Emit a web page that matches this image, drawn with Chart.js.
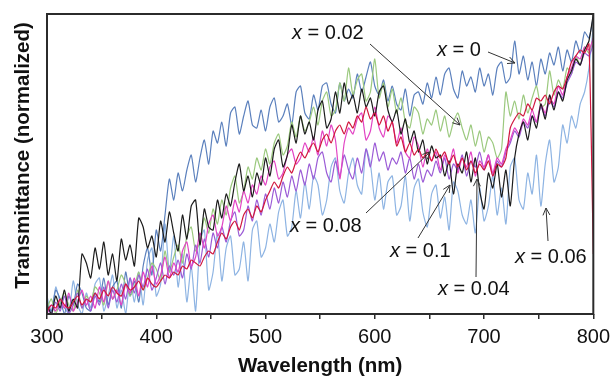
<!DOCTYPE html>
<html>
<head>
<meta charset="utf-8">
<script src="https://cdn.jsdelivr.net/npm/chart.js@4.4.1/dist/chart.umd.min.js"></script>
<style>
  html, body { margin: 0; padding: 0; background: #fff; }
  #wrap { width: 616px; height: 377px; position: relative; }
</style>
</head>
<body>
<div id="wrap"><canvas id="specChart"></canvas></div>
<script>
// wavelength grid (nm), 4 nm steps
const wavelengths = [
  300,304,308,312,316,320,324,328,332,336,340,344,348,352,356,360,364,368,372,376,
  380,384,388,392,396,400,404,408,412,416,420,424,428,432,436,440,444,448,452,456,
  460,464,468,472,476,480,484,488,492,496,500,504,508,512,516,520,524,528,532,536,
  540,544,548,552,556,560,564,568,572,576,580,584,588,592,596,600,604,608,612,616,
  620,624,628,632,636,640,644,648,652,656,660,664,668,672,676,680,684,688,692,696,
  700,704,708,712,716,720,724,728,732,736,740,744,748,752,756,760,764,768,772,776,
  780,784,788,792,796,800
];
const xTicks = [300, 400, 500, 600, 700, 800];

// normalized transmittance (0-100)
const x000 = [
  4,1,8,5,0,6,3,10,7,2, 1,7,4,12,3,9,11,2,14,6, 11,4,16,22,13,28,21,33,45,38,
  47,41,48,53,44,52,58,50,61,57, 64,56,67,69,60,66,71,63,62,68, 61,69,72,64,66,70,63,74,76,67,
  65,73,68,76,77,70,67,77,71,75, 72,80,74,79,84,76,73,78,71,76, 70,68,75,66,73,74,70,77,72,79,
  73,80,82,75,72,81,76,79,74,82, 76,80,73,82,84,77,79,91,80,86, 78,84,76,85,80,87,83,89,81,88,
  84,91,87,94,92,99
];
const x002 = [
  2,5,0,4,7,3,1,8,2,6, 4,9,7,3,11,5,8,13,10,6, 9,14,8,12,17,15,11,21,14,19,
  23,17,26,29,21,24,32,27,35,30, 38,33,42,46,37,41,49,45,52,48, 55,50,57,60,53,56,64,59,66,61,
  64,69,63,71,74,66,68,77,71,82, 73,78,80,71,74,85,72,77,69,75, 67,72,64,62,69,67,60,65,63,68,
  61,66,59,64,67,62,58,63,56,61, 54,59,57,52,55,74,66,71,65,73, 67,72,76,69,70,81,73,78,75,82,
  80,86,83,89,87,92
];
const x004 = [
  2,0,4,1,6,0,3,7,2,5, 1,6,3,9,2,8,4,10,5,12, 7,13,9,15,8,12,17,10,16,13,
  18,12,20,15,23,17,25,19,27,22, 29,24,31,34,26,28,36,31,38,33, 40,35,42,37,44,39,46,41,48,43,
  50,45,52,54,47,44,51,46,53,48, 45,52,47,55,49,57,51,54,48,52, 50,54,47,52,45,50,44,48,46,51,
  47,52,45,50,48,53,46,51,49,54, 48,53,46,51,49,54,57,61,59,64, 62,66,64,69,66,71,69,74,72,77,
  80,84,83,87,86,90
];
const x006 = [
  6,0,9,4,2,0,11,3,0,7, 2,10,12,1,6,13,2,8,0,12, 4,14,3,18,22,6,10,30,14,26,
  9,20,4,16,1,24,28,8,14,27, 11,22,26,13,15,24,11,28,31,19, 22,30,24,34,38,26,29,41,32,44,
  35,46,43,33,38,49,52,41,37,47, 52,43,40,55,50,38,47,35,44,46, 33,36,46,31,42,45,34,29,40,43,
  32,39,28,44,41,33,30,38,27,42, 31,36,46,33,42,30,49,52,38,35, 47,40,53,36,50,58,44,49,63,57,
  66,62,70,74,82,96
];
const x008 = [
  0,3,1,5,2,7,1,4,8,3, 6,2,9,4,11,5,8,3,10,7, 12,6,14,9,16,10,13,19,12,17,
  14,21,24,16,19,27,22,30,33,26, 29,36,31,38,34,41,37,43,40,46, 43,49,51,45,47,53,55,50,52,57,
  54,59,53,61,56,63,58,45,57,62, 60,65,67,58,61,69,62,59,66,64, 57,62,54,52,59,56,49,55,51,54,
  48,53,50,55,47,52,49,54,46,51, 49,53,47,52,50,55,58,62,60,65, 63,68,64,70,67,72,70,76,73,79,
  82,86,85,89,88,92
];
const x010 = [
  3,0,6,2,8,1,5,2,20,17, 12,22,15,24,13,20,11,25,18,23, 16,32,29,22,26,19,31,24,34,27,
  21,33,25,36,38,23,35,29,28,38, 32,40,36,44,50,41,46,39,47,43, 52,46,55,58,49,53,63,57,66,60,
  64,58,68,71,62,65,74,67,77,70, 73,67,75,69,72,66,74,76,68,64, 68,60,65,57,61,54,58,50,56,52,
  53,46,51,40,50,47,54,44,52,41, 35,47,42,50,39,48,36,52,60,64, 58,66,62,70,65,73,68,74,71,78,
  81,85,83,88,91,100
];
const redSeries = [
  1,3,2,5,3,2,4,6,3,5, 4,7,5,8,6,9,7,6,10,8, 9,11,8,12,10,9,11,13,12,14,
  13,16,15,18,17,16,19,21,20,24, 27,25,29,31,28,33,35,32,36,34, 38,41,44,42,46,49,47,51,54,52,
  55,57,54,58,60,57,61,63,60,64, 62,66,64,69,65,67,63,66,61,64, 56,59,54,57,53,55,52,54,51,55,
  52,54,50,53,49,52,48,51,47,50, 48,51,46,50,49,52,62,65,67,66, 70,68,72,71,73,70,74,76,75,79,
  84,86,88,87,90,20
];

function pts(vals) {
  return vals.map((v, i) => ({ x: wavelengths[i], y: v }));
}

// top-most first
const datasets = [
  { label: 'red', data: pts(redSeries), borderColor: '#d1173f' },
  { label: 'x = 0.1', data: pts(x010), borderColor: '#1c1c1c' },
  { label: 'x = 0.08', data: pts(x008), borderColor: '#e244c4' },
  { label: 'x = 0.04', data: pts(x004), borderColor: '#9b5bd6' },
  { label: 'x = 0.02', data: pts(x002), borderColor: '#9bc97e' },
  { label: 'x = 0', data: pts(x000), borderColor: '#5b80bd' },
  { label: 'x = 0.06', data: pts(x006), borderColor: '#8eb4e3' }
].map(d => Object.assign(d, { borderWidth: 1.2, pointRadius: 0, fill: false, tension: 0.2 }));

// labels with arrows (pixel layout)
const notes = [
  { text: '0.02', tx: 292, ty: 33, from: [370, 44], to: [460, 125] },
  { text: '0', tx: 437, ty: 50, from: [488, 52], to: [515, 63] },
  { text: '0.08', tx: 290, ty: 226, from: [366, 213], to: [430, 152] },
  { text: '0.1', tx: 390, ty: 251, from: [418, 238], to: [450, 185] },
  { text: '0.04', tx: 438, ty: 289, from: [476, 277], to: [477, 179] },
  { text: '0.06', tx: 515, ty: 257, from: [548, 241], to: [546, 208] }
];

const notesPlugin = {
  id: 'notes',
  afterDatasetsDraw(chart) {
    const ctx = chart.ctx;
    ctx.save();
    ctx.strokeStyle = '#333';
    ctx.lineWidth = 1;
    ctx.fillStyle = '#111';
    ctx.textBaseline = 'middle';
    notes.forEach(n => {
      ctx.beginPath();
      ctx.moveTo(n.from[0], n.from[1]);
      ctx.lineTo(n.to[0], n.to[1]);
      const ang = Math.atan2(n.to[1] - n.from[1], n.to[0] - n.from[0]);
      const L = 8, A = 0.45;
      ctx.moveTo(n.to[0] - L * Math.cos(ang - A), n.to[1] - L * Math.sin(ang - A));
      ctx.lineTo(n.to[0], n.to[1]);
      ctx.lineTo(n.to[0] - L * Math.cos(ang + A), n.to[1] - L * Math.sin(ang + A));
      ctx.stroke();
      ctx.font = 'italic 20px "Liberation Sans", Arial, sans-serif';
      ctx.fillText('x', n.tx, n.ty);
      const w = ctx.measureText('x').width;
      ctx.font = '20px "Liberation Sans", Arial, sans-serif';
      ctx.fillText(' = ' + n.text, n.tx + w, n.ty);
    });
    // plot frame
    const a = chart.chartArea;
    ctx.strokeStyle = '#2b2b2b';
    ctx.lineWidth = 2;
    ctx.strokeRect(a.left, a.top, a.right - a.left, a.bottom - a.top);
    ctx.restore();
  }
};

const ctx = document.getElementById('specChart').getContext('2d');
const specChart = new Chart(ctx, {
  type: 'line',
  data: { datasets: datasets },
  options: {
    responsive: true,
    maintainAspectRatio: false,
    animation: false,
    layout: { padding: { top: 14, right: 18, left: 0, bottom: 0 } },
    plugins: { legend: { display: false }, tooltip: { enabled: false } },
    scales: {
      x: {
        type: 'linear',
        min: 300,
        max: 800,
        afterFit: s => { s.height = 63; },
        border: { display: false },
        grid: { drawOnChartArea: false, drawTicks: true, tickLength: 5, color: '#2b2b2b', lineWidth: 1.5 },
        ticks: {
          stepSize: 50,
          padding: 6,
          color: '#111',
          font: { family: '"Liberation Sans", Arial, sans-serif', size: 20 },
          callback: v => xTicks.includes(v) ? String(v) : ''
        },
        title: {
          display: true,
          text: 'Wavelength (nm)',
          color: '#111',
          padding: 0,
          font: { family: '"Liberation Sans", Arial, sans-serif', size: 20.5, weight: 'bold', lineHeight: 1 }
        }
      },
      y: {
        min: 0,
        max: 100,
        afterFit: s => { s.width = 47; },
        border: { display: false },
        grid: { display: false },
        ticks: { display: false },
        title: {
          display: true,
          text: '   Transmittance (normalized)',
          color: '#111',
          padding: { top: 11, bottom: 0 },
          font: { family: '"Liberation Sans", Arial, sans-serif', size: 20.5, weight: 'bold', lineHeight: 1.2 }
        }
      }
    }
  },
  plugins: [notesPlugin]
});
</script>
</body>
</html>
